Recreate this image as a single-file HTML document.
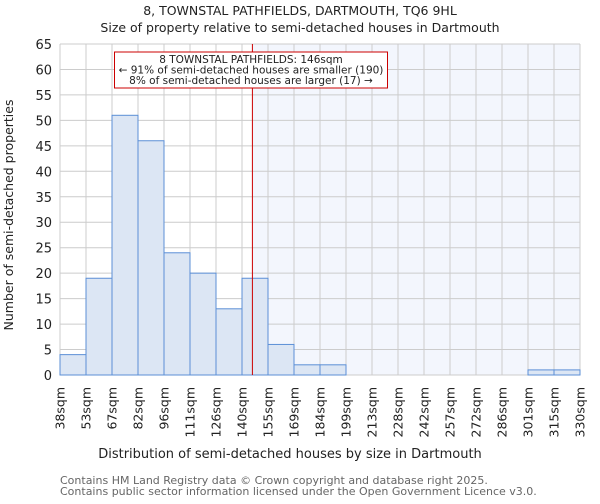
<!DOCTYPE html>
<html><head><meta charset="utf-8"><style>
body{margin:0;background:#fff;font-family:"DejaVu Sans","Liberation Sans",sans-serif}
</style></head><body>
<svg id="chart" width="600" height="500" xmlns="http://www.w3.org/2000/svg" font-family="DejaVu Sans, Liberation Sans, sans-serif">
<text x="300" y="15" text-anchor="middle" font-size="12.5" fill="#222">8, TOWNSTAL PATHFIELDS, DARTMOUTH, TQ6 9HL</text>
<text x="300" y="32" text-anchor="middle" font-size="12.5" fill="#222">Size of property relative to semi-detached houses in Dartmouth</text>
<g id="plot"></g>
<text x="290" y="458" text-anchor="middle" font-size="13" fill="#222">Distribution of semi-detached houses by size in Dartmouth</text>
<text transform="translate(13,215) rotate(-90)" text-anchor="middle" font-size="12.5" fill="#222">Number of semi-detached properties</text>
<text x="60" y="484" font-size="11" fill="#666">Contains HM Land Registry data © Crown copyright and database right 2025.</text>
<text x="60" y="495" font-size="11" fill="#666">Contains public sector information licensed under the Open Government Licence v3.0.</text>
</svg>
<script>
const categories=["38sqm","53sqm","67sqm","82sqm","96sqm","111sqm","126sqm","140sqm","155sqm","169sqm","184sqm","199sqm","213sqm","228sqm","242sqm","257sqm","272sqm","286sqm","301sqm","315sqm","330sqm"];
const counts=[4,19,51,46,24,20,13,19,6,2,2,0,0,0,0,0,0,0,1,1];
const binEdges=[38,53,67,82,96,111,126,140,155,169,184,199,213,228,242,257,272,286,301,315,330];
const yTicks=[0,5,10,15,20,25,30,35,40,45,50,55,60,65];
const propertySize=146;
const annotationLines=["8 TOWNSTAL PATHFIELDS: 146sqm","← 91% of semi-detached houses are smaller (190)","8% of semi-detached houses are larger (17) →"];

const NS="http://www.w3.org/2000/svg";
const L=60,R=580,T=44,B=375,yMax=65;
const nb=counts.length;
const xb=i=>L+(R-L)*i/nb;
const y=v=>B-(B-T)*v/yMax;
const xv=v=>{let i=0;while(i<nb-1&&binEdges[i+1]<v)i++;return xb(i)+(v-binEdges[i])/(binEdges[i+1]-binEdges[i])*(xb(i+1)-xb(i));};
const g=document.getElementById('plot');
function mk(t,a){const e=document.createElementNS(NS,t);for(const k in a)e.setAttribute(k,a[k]);g.appendChild(e);return e;}
const px=xv(propertySize);
let e=mk('rect',{x:px,y:T,width:R-px,height:B-T,fill:'#f3f6fd'});


for(const t of yTicks){
 e=mk('line',{x1:L,x2:R,y1:y(t),y2:y(t),stroke:'#ccc','stroke-width':1});
 
 
 e=mk('text',{x:L-8,y:y(t)+5,'text-anchor':'end','font-size':13,fill:'#222'});
 e.textContent=t;
 
 
}
for(let i=0;i<=nb;i++){
 e=mk('line',{x1:xb(i),x2:xb(i),y1:T,y2:B,stroke:'#ccc','stroke-width':1});
 
 
 e=mk('text',{transform:`translate(${xb(i)+4.5},${B+12}) rotate(-90)`,'text-anchor':'end','font-size':12.5,fill:'#222'});
 e.textContent=categories[i];
 
 
}
counts.forEach((c,i)=>{
 if(c<=0)return;
 e=mk('rect',{x:xb(i),y:y(c),width:xb(i+1)-xb(i),height:B-y(c),fill:'#dce6f4',stroke:'#5b8fd6','stroke-width':1});
 
 
});
e=mk('line',{x1:px,x2:px,y1:T,y2:B,stroke:'#cc0000','stroke-width':1});


e=mk('rect',{x:114.5,y:52,width:273,height:36,fill:'#fff',stroke:'#cc0000','stroke-width':1});


annotationLines.forEach((s,i)=>{
 e=mk('text',{x:251,y:63+i*10.5,'text-anchor':'middle','font-size':10.5,fill:'#222'});
 e.textContent=s;
 
 
});
</script>
</body></html>
